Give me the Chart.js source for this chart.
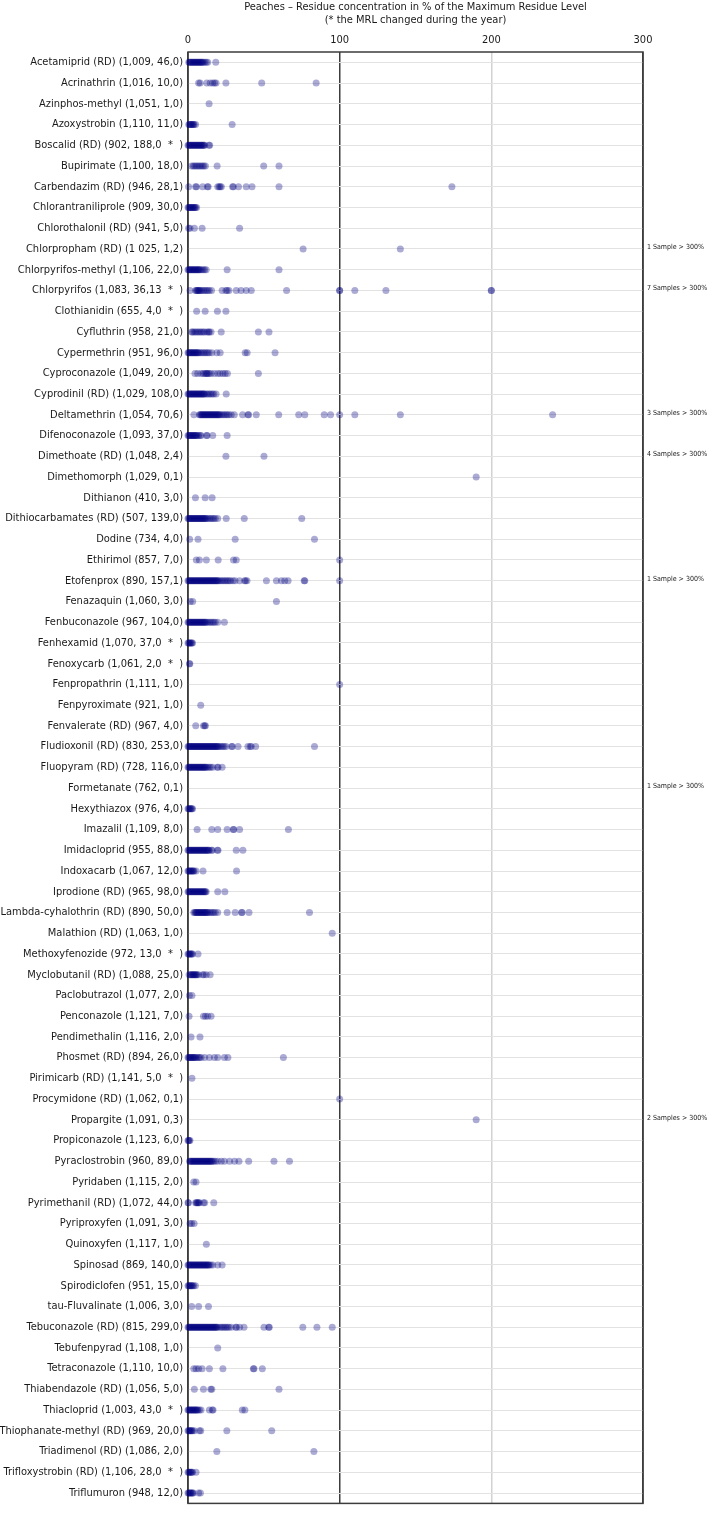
<!DOCTYPE html>
<html>
<head>
<meta charset="utf-8">
<script src="https://cdn.jsdelivr.net/npm/chart.js@4.4.0/dist/chart.umd.min.js"></script>
<style>
  html, body { margin: 0; padding: 0; background: #fff; }
</style>
</head>
<body>
<canvas id="chart" width="709" height="1515"></canvas>
<script>
// Data
const titleLines = [
	'Peaches \u2013 Residue concentration in % of the Maximum Residue Level',
	'(* the MRL changed during the year)',
];

const xTicks = [0, 100, 200, 300];

const substances = [
	'Acetamiprid (RD) (1,009, 46,0)',
	'Acrinathrin (1,016, 10,0)',
	'Azinphos-methyl (1,051, 1,0)',
	'Azoxystrobin (1,110, 11,0)',
	'Boscalid (RD) (902, 188,0  *  )',
	'Bupirimate (1,100, 18,0)',
	'Carbendazim (RD) (946, 28,1)',
	'Chlorantraniliprole (909, 30,0)',
	'Chlorothalonil (RD) (941, 5,0)',
	'Chlorpropham (RD) (1 025, 1,2)',
	'Chlorpyrifos-methyl (1,106, 22,0)',
	'Chlorpyrifos (1,083, 36,13  *  )',
	'Clothianidin (655, 4,0  *  )',
	'Cyfluthrin (958, 21,0)',
	'Cypermethrin (951, 96,0)',
	'Cyproconazole (1,049, 20,0)',
	'Cyprodinil (RD) (1,029, 108,0)',
	'Deltamethrin (1,054, 70,6)',
	'Difenoconazole (1,093, 37,0)',
	'Dimethoate (RD) (1,048, 2,4)',
	'Dimethomorph (1,029, 0,1)',
	'Dithianon (410, 3,0)',
	'Dithiocarbamates (RD) (507, 139,0)',
	'Dodine (734, 4,0)',
	'Ethirimol (857, 7,0)',
	'Etofenprox (890, 157,1)',
	'Fenazaquin (1,060, 3,0)',
	'Fenbuconazole (967, 104,0)',
	'Fenhexamid (1,070, 37,0  *  )',
	'Fenoxycarb (1,061, 2,0  *  )',
	'Fenpropathrin (1,111, 1,0)',
	'Fenpyroximate (921, 1,0)',
	'Fenvalerate (RD) (967, 4,0)',
	'Fludioxonil (RD) (830, 253,0)',
	'Fluopyram (RD) (728, 116,0)',
	'Formetanate (762, 0,1)',
	'Hexythiazox (976, 4,0)',
	'Imazalil (1,109, 8,0)',
	'Imidacloprid (955, 88,0)',
	'Indoxacarb (1,067, 12,0)',
	'Iprodione (RD) (965, 98,0)',
	'Lambda-cyhalothrin (RD) (890, 50,0)',
	'Malathion (RD) (1,063, 1,0)',
	'Methoxyfenozide (972, 13,0  *  )',
	'Myclobutanil (RD) (1,088, 25,0)',
	'Paclobutrazol (1,077, 2,0)',
	'Penconazole (1,121, 7,0)',
	'Pendimethalin (1,116, 2,0)',
	'Phosmet (RD) (894, 26,0)',
	'Pirimicarb (RD) (1,141, 5,0  *  )',
	'Procymidone (RD) (1,062, 0,1)',
	'Propargite (1,091, 0,3)',
	'Propiconazole (1,123, 6,0)',
	'Pyraclostrobin (960, 89,0)',
	'Pyridaben (1,115, 2,0)',
	'Pyrimethanil (RD) (1,072, 44,0)',
	'Pyriproxyfen (1,091, 3,0)',
	'Quinoxyfen (1,117, 1,0)',
	'Spinosad (869, 140,0)',
	'Spirodiclofen (951, 15,0)',
	'tau-Fluvalinate (1,006, 3,0)',
	'Tebuconazole (RD) (815, 299,0)',
	'Tebufenpyrad (1,108, 1,0)',
	'Tetraconazole (1,110, 10,0)',
	'Thiabendazole (RD) (1,056, 5,0)',
	'Thiacloprid (1,003, 43,0  *  )',
	'Thiophanate-methyl (RD) (969, 20,0)',
	'Triadimenol (RD) (1,086, 2,0)',
	'Trifloxystrobin (RD) (1,106, 28,0  *  )',
	'Triflumuron (948, 12,0)',
];

// residue values (% of MRL), one list per substance, same order as above
const residues = [
	[0.5,1,1.5,2,2.5,3,3.5,4,4.5,5,5.5,6,6.5,7,7.5,8,8.5,9,9.5,10,11,12,13,18.3],
	[7,8,12.4,14.6,16.3,17.5,18.5,25,48.6,84.5],
	[13.9],
	[0.5,1,1.5,2,2.5,3,3.5,4,5,29.1],
	[0,0.5,1,1.5,2,2.5,3,3.5,4,4.5,5,5.5,6,6.5,7,7.5,8,8.5,9,9.5,10,10.5,11,13.8,14.3],
	[2.4,3.5,4.5,5.5,6.5,7.5,8.5,9.5,10.5,11.5,19.2,49.9,60],
	[0.4,5,5.6,9.7,12.8,13.3,19.6,20.5,21.2,22,29.4,29.9,33.3,38.4,42.2,60,174],
	[0,0.5,1,1.5,2,2.5,3,3.5,4,4.5,5,5.7],
	[0.4,1.3,4.2,9.3,34],
	[75.9,140],
	[0,0.5,1,1.5,2,2.5,3,3.5,4,4.5,5,5.5,6,6.5,7,7.5,8,9,10,11,12,25.8,60],
	[1.3,5,5.5,6,6.5,7,7.5,8,9,10,11,12,13,14,15.5,22.5,25,25.8,27,31.8,35,38.4,41.7,65,100,100,110,130.5,200,200],
	[5.7,11.3,19.4,25],
	[2.4,3,4,5,6,7,8,9,10,11,12.5,13.5,14,15.2,21.9,46.4,53.4],
	[0,0.5,1,1.5,2,2.5,3,3.5,4,4.5,5,5.5,6,6.5,7,8,9,10,11,12,13,14,15.7,19,21.2,37.7,39,57.4],
	[4.6,6.4,8.6,10,11,12,12.5,13,14,15.2,17.4,19.6,21.2,23,24.5,26,46.4],
	[0,0.5,1,1.5,2,2.5,3,3.5,4,4.5,5,5.5,6,6.5,7,7.5,8,8.5,9,9.5,10,10.5,11,12,13,14,15,16,17,18.5,25.2],
	[3.9,7.5,8,8.5,9,9.5,10,10.5,11,11.5,12,12.5,13,13.5,14,14.5,15,15.5,16,16.5,17,17.5,18,18.5,19,19.5,20,20.5,21,22,23,24,25,26,27,28.5,30.5,36,39.5,40,45,59.8,73,77,89.8,94,100,110,140,240.4],
	[0,0.5,1,1.5,2,2.5,3,3.5,4,4.5,5,5.5,6,7,8,8.6,12.2,12.6,16.3,25.8],
	[25,50.1],
	[190],
	[4.9,11.3,15.9],
	[0,0.5,1,1.5,2,2.5,3,3.5,4,4.5,5,5.5,6,6.5,7,7.5,8,8.5,9,9.5,10,10.5,11,11.5,12,13,14,15,16,17,18,19.6,25.2,37.1,75],
	[1.1,6.6,31.1,83.4],
	[5.5,7.5,12.1,19.9,30,31.8,100],
	[0,0.5,1,1.5,2,2.5,3,3.5,4,4.5,5,5.5,6,6.5,7,7.5,8,8.5,9,9.5,10,10.5,11,11.5,12,12.5,13,13.5,14,14.5,15,15.5,16,16.5,17,17.5,18,18.5,19,19.5,20,21,22,23,24,25,26,27,28,29.6,31,34,37.3,38,38.9,51.7,58.3,61.6,63.8,66,76.6,77,100],
	[1.5,3.1,58.3],
	[0,0.5,1,1.5,2,2.5,3,3.5,4,4.5,5,5.5,6,6.5,7,7.5,8,8.5,9,9.5,10,10.5,11,11.5,12,13,14,15,16,17,18,19.6,24],
	[0,0.5,1,1.5,2,2.5,3],
	[0.9,1.2],
	[100],
	[8.4],
	[5.1,10.2,11,11.5],
	[0,0.5,1,1.5,2,2.5,3,3.5,4,4.5,5,5.5,6,6.5,7,7.5,8,8.5,9,9.5,10,10.5,11,11.5,12,12.5,13,13.5,14,14.5,15,15.5,16,16.5,17,17.5,18,18.5,19,19.5,20,21,22,23,24,25.2,28.8,29.2,33,39.5,41,41.7,44.6,83.4],
	[0,0.5,1,1.5,2,2.5,3,3.5,4,4.5,5,5.5,6,6.5,7,7.5,8,8.5,9,9.5,10,10.5,11,11.5,12,13,14,15,16.3,19.4,19.8,22.5],
	[],
	[0,0.5,1,1.5,2,2.5,3],
	[6,15.7,19.6,25.8,29.8,30.2,34,66.2],
	[0,0.5,1,1.5,2,2.5,3,3.5,4,4.5,5,5.5,6,6.5,7,7.5,8,8.5,9,9.5,10,10.5,11,11.5,12,12.5,13,13.5,14,15.5,16,19.4,19.8,31.8,36.2],
	[0,0.5,1,1.5,2,2.5,3,3.5,4,5.3,9.9,32],
	[0,0.5,1,1.5,2,2.5,3,3.5,4,4.5,5,5.5,6,6.5,7,7.5,8,8.5,9,9.5,10,10.5,11,11.5,12,19.6,24.3],
	[3.8,4.5,5,5.5,6,6.5,7,7.5,8,8.5,9,9.5,10,10.5,11,11.5,12,12.5,13,14,15,16,17,18,19.6,25.8,31.1,35.3,35.7,40.2,80.1],
	[95.1],
	[0,0.5,1,1.5,2,2.5,3,6.6],
	[0.7,1.5,2,2.5,3,3.5,4,4.5,5,5.5,6,7,9.7,10.5,12,14.6],
	[0.9,2.6],
	[0.7,10.2,11.5,13,15.2],
	[2,7.9],
	[0,0.5,1,1.5,2,2.5,3,3.5,4,4.5,5,6,7,7.6,8.6,11,14.1,17.4,19.6,24,26.3,62.9],
	[2.6],
	[100],
	[190],
	[0,0.4,0.8,1.3],
	[1,1.5,2,2.5,3,3.5,4,4.5,5,5.5,6,6.5,7,7.5,8,8.5,9,9.5,10,10.5,11,11.5,12,12.5,13,13.5,14,14.5,15,15.5,16,17,18,19.6,21.9,24,27.4,30.7,33.6,40,56.7,66.9],
	[3.8,5.3],
	[0,0.3,5,5.5,6,6.5,7,7.5,10.2,11,17],
	[1.3,2.4,4],
	[12.1],
	[0,0.5,1,1.5,2,2.5,3,3.5,4,4.5,5,5.5,6,6.5,7,7.5,8,8.5,9,9.5,10,10.5,11,11.5,12,12.5,13,13.5,14,15,16.3,19.6,22.5],
	[0,0.5,1,1.5,2,2.5,3,3.8,4.9],
	[2.4,7,13.5],
	[0,0.5,1,1.5,2,2.5,3,3.5,4,4.5,5,5.5,6,6.5,7,7.5,8,8.5,9,9.5,10,10.5,11,11.5,12,12.5,13,13.5,14,14.5,15,15.5,16,16.5,17,17.5,18,18.5,19,19.5,21,22,23,24,25,26,27,28.5,31.5,32,34,36.9,50.1,53.2,53.6,75.7,85,95.1],
	[19.6],
	[3.8,5.3,7,9.3,14.1,23,43.1,43.5,49],
	[4.2,10.2,15,15.7,60],
	[0,0.5,1,1.5,2,2.5,3,3.5,4,4.5,5,5.5,6,6.5,7.5,8.6,14.1,16,16.5,35.8,37.5],
	[0,0.5,1,1.5,2,2.5,3,4.2,7.5,8.4,25.6,55.2],
	[19,83],
	[0,0.5,1,1.5,2,2.5,3,5.3],
	[0,0.5,1,1.5,2,2.5,3,3.5,7,8.2],
];

// samples beyond the axis end
const noteSubstances = [
	'Chlorpropham (RD) (1 025, 1,2)',
	'Chlorpyrifos (1,083, 36,13  *  )',
	'Deltamethrin (1,054, 70,6)',
	'Dimethoate (RD) (1,048, 2,4)',
	'Etofenprox (890, 157,1)',
	'Formetanate (762, 0,1)',
	'Propargite (1,091, 0,3)',
];
const noteTexts = [
	'1 Sample > 300%',
	'7 Samples > 300%',
	'3 Samples > 300%',
	'4 Samples > 300%',
	'1 Sample > 300%',
	'1 Sample > 300%',
	'2 Samples > 300%',
];

// Style
const FONT = '"DejaVu Sans Condensed", "DejaVu Sans", sans-serif';
const TEXT = '#1a1a1a';
const DARK = '#3c3c3c';

// Plugins
const framePlugin = {
	id: 'frame',
	beforeDatasetsDraw(chart) {
		const { ctx, chartArea: a } = chart;
		ctx.save();
		ctx.strokeStyle = DARK;
		ctx.lineWidth = 1.5;
		ctx.strokeRect(a.left, a.top, a.right - a.left, a.bottom - a.top);
		ctx.restore();
	},
};

const titlePlugin = {
	id: 'twoLineTitle',
	afterDraw(chart) {
		const { ctx, chartArea: a } = chart;
		const cx = (a.left + a.right) / 2;
		ctx.save();
		ctx.fillStyle = TEXT;
		ctx.font = '11px ' + FONT;
		ctx.textAlign = 'center';
		ctx.textBaseline = 'middle';
		titleLines.forEach((line, i) => ctx.fillText(line, cx, 7 + i * 13));
		ctx.restore();
	},
};

const notesPlugin = {
	id: 'notes',
	afterDraw(chart) {
		const { ctx, chartArea: a } = chart;
		const yScale = chart.scales.y;
		ctx.save();
		ctx.fillStyle = TEXT;
		ctx.font = '7px ' + FONT;
		ctx.textAlign = 'left';
		ctx.textBaseline = 'middle';
		noteSubstances.forEach((name, i) => {
			const y = yScale.getPixelForValue(substances.indexOf(name));
			ctx.fillText(noteTexts[i], a.right + 4, y - 2);
		});
		ctx.restore();
	},
};

// Chart
const points = substances.flatMap((name, i) => residues[i].map((v) => ({ x: v, y: name })));

new Chart(document.getElementById('chart'), {
	type: 'scatter',
	data: {
		datasets: [
			{
				data: points,
				backgroundColor: 'rgba(0, 0, 128, 0.33)',
				borderWidth: 0,
				pointRadius: 3.5,
				pointHoverRadius: 3.5,
				clip: false,
			},
		],
	},
	options: {
		responsive: false,
		animation: false,
		events: [],
		layout: { padding: { left: 0, right: 66, top: 0, bottom: 2 } },
		plugins: {
			legend: { display: false },
			tooltip: { enabled: false },
			title: { display: false },
		},
		scales: {
			x: {
				type: 'linear',
				position: 'top',
				min: 0,
				max: 300,
				afterBuildTicks: (scale) => {
					scale.ticks = xTicks.map((v) => ({ value: v }));
				},
				afterFit: (scale) => {
					scale.height = 52;
				},
				ticks: { color: TEXT, font: { family: FONT, size: 11 }, padding: 5 },
				grid: {
					drawTicks: false,
					color: (c) => (c.tick && c.tick.value === 200 ? '#d2d2d2' : DARK),
					lineWidth: 1.5,
				},
				border: { display: false },
			},
			y: {
				type: 'category',
				labels: substances,
				offset: true,
				afterFit: (scale) => {
					scale.width = 188;
				},
				ticks: { autoSkip: false, color: TEXT, font: { family: FONT, size: 11 }, padding: 5 },
				grid: { offset: false, drawTicks: false, color: '#e2e2e2', lineWidth: 1 },
				border: { display: false },
			},
		},
	},
	plugins: [framePlugin, titlePlugin, notesPlugin],
});
</script>
</body>
</html>
